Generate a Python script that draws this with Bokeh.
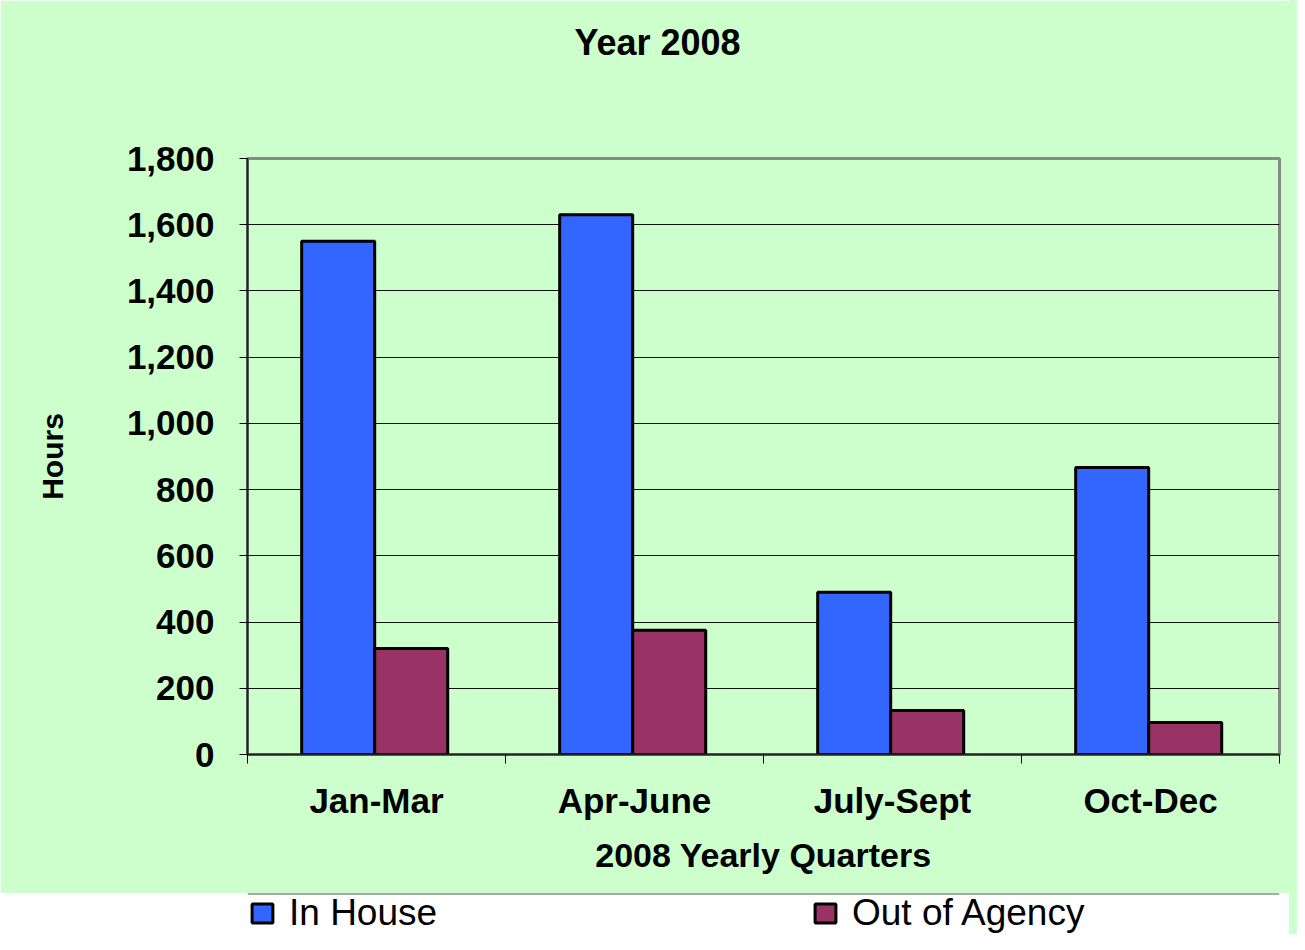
import numpy as np
from bokeh.plotting import figure
from bokeh.layouts import column
from bokeh.models import (Range1d, FixedTicker, NumeralTickFormatter, LinearAxis,
                          Legend, LegendItem, Span, ColumnDataSource)
from bokeh.embed import file_html
from bokeh.resources import INLINE

# ---- data ----
quarters = ["Jan-Mar", "Apr-June", "July-Sept", "Oct-Dec"]
in_house = [1550, 1630, 490, 867]
out_of_agency = [320, 375, 133, 97]
series_names = ["In House", "Out of Agency"]
y_ticks = [0, 200, 400, 600, 800, 1000, 1200, 1400, 1600, 1800]
title_text = "Year 2008"
x_title = "2008 Yearly Quarters"
y_title = "Hours"

# ---- style ----
BG = "#CCFFCC"
BLUE = "#3366FF"
MAROON = "#993366"
TEAL = "#006666"
FONT = "Liberation Sans"
W = 1289

idx = np.arange(len(quarters))
group_center = idx + 0.493
bw = 0.283
src = ColumnDataSource(dict(
    q=quarters,
    x1=group_center - bw / 2,
    x2=group_center + bw / 2,
    inh=in_house,
    out=out_of_agency,
))

p = figure(width=W, height=893, output_backend="svg", toolbar_location=None,
           x_range=Range1d(0, len(quarters)), y_range=Range1d(0, y_ticks[-1]),
           min_border_left=247, min_border_right=10, min_border_top=158,
           min_border_bottom=139)
p.background_fill_color = BG
p.border_fill_color = BG
p.outline_line_color = "#888888"
p.outline_line_width = 3

xa = p.below[0]
ya = p.left[0]

# bars
bar_style = dict(line_color="black", line_width=3)
r1 = p.vbar(x="x1", top="inh", bottom=0, width=bw, source=src, fill_color=BLUE, **bar_style)
r2 = p.vbar(x="x2", top="out", bottom=0, width=bw, source=src, fill_color=MAROON, **bar_style)

# x axis
label_pos = [float(i) + 0.5 for i in idx]
xa.ticker = FixedTicker(ticks=label_pos, minor_ticks=[float(i) for i in range(len(quarters) + 1)])
xa.major_label_overrides = {lp: q for lp, q in zip(label_pos, quarters)}
xa.major_tick_line_color = None
xa.major_tick_out = 0
xa.major_tick_in = 0
xa.minor_tick_line_color = "black"
xa.minor_tick_line_width = 1
xa.minor_tick_out = 9
xa.minor_tick_in = 0
xa.axis_line_color = "#222222"
xa.axis_line_width = 2
xa.major_label_standoff = 17
xa.major_label_text_font = FONT
xa.major_label_text_font_style = "bold"
xa.major_label_text_font_size = "35px"
xa.major_label_text_color = "black"
xa.axis_label = x_title
xa.axis_label_standoff = 13
xa.axis_label_text_font = FONT
xa.axis_label_text_font_style = "bold"
xa.axis_label_text_font_size = "34px"
xa.axis_label_text_color = "black"

# y axis
ya.ticker = FixedTicker(ticks=y_ticks)
ya.formatter = NumeralTickFormatter(format="0,0")
ya.major_tick_out = 8
ya.major_tick_in = 0
ya.major_tick_line_color = "black"
ya.minor_tick_line_color = None
ya.axis_line_color = "#222222"
ya.axis_line_width = 2
ya.major_label_standoff = 25
ya.major_label_text_font = FONT
ya.major_label_text_font_style = "bold"
ya.major_label_text_font_size = "35px"
ya.major_label_text_color = "black"
ya.axis_label = y_title
ya.axis_label_standoff = 55
ya.axis_label_text_font = FONT
ya.axis_label_text_font_style = "bold"
ya.axis_label_text_font_size = "30px"
ya.axis_label_text_color = "black"

# title (placed through an axis above the frame so it can sit high and off-centre)
title_x = 1.589
tax = LinearAxis(ticker=FixedTicker(ticks=[title_x]),
                 major_label_overrides={title_x: title_text})
tax.axis_line_color = None
tax.major_tick_line_color = None
tax.minor_tick_line_color = None
tax.major_tick_out = 0
tax.major_tick_in = 0
tax.major_label_standoff = 96
tax.major_label_text_font = FONT
tax.major_label_text_font_style = "bold"
tax.major_label_text_font_size = "36px"
tax.major_label_text_color = "black"
p.add_layout(tax, "above")

# grid
p.xgrid.visible = False
p.ygrid.ticker = FixedTicker(ticks=y_ticks[1:-1])
p.ygrid.grid_line_color = "#111111"
p.ygrid.grid_line_width = 1

# ---- white legend strip (its frame is aligned with the chart's frame) ----
pb = figure(width=W, height=41, output_backend="svg", toolbar_location=None,
            x_range=Range1d(0, len(quarters)), y_range=Range1d(-2, -1),
            x_axis_type=None, y_axis_type=None,
            min_border_left=0, min_border_right=0, min_border_top=0, min_border_bottom=0)
pb.background_fill_color = "white"
pb.border_fill_color = "white"
pb.outline_line_color = None
pb.add_layout(Span(location=-1, dimension="width", line_color="#555555", line_width=2))

# same series as legend sources (hidden), so the swatches match the bars
s1 = pb.vbar(x="x1", top="inh", bottom=0, width=bw, source=src, fill_color=BLUE, **bar_style)
s2 = pb.vbar(x="x2", top="out", bottom=0, width=bw, source=src, fill_color=MAROON, **bar_style)
s1.visible = False
s2.visible = False


def make_legend(item, loc):
    lg = Legend(items=[item], location=loc)
    lg.label_text_font = FONT
    lg.label_text_font_size = "37px"
    lg.label_text_color = "black"
    lg.glyph_width = 26
    lg.glyph_height = 24
    lg.label_standoff = 14
    lg.padding = 0
    lg.margin = 0
    lg.spacing = 0
    lg.background_fill_alpha = 0
    lg.border_line_alpha = 0
    return lg


pb.add_layout(make_legend(LegendItem(label=series_names[0], renderers=[s1]), (2, 0)))
pb.add_layout(make_legend(LegendItem(label=series_names[1], renderers=[s2]), (565, 0)))

layout = column(p, pb, spacing=0)
# page frame: teal edge on the left/top, chart colours carried to the window edges
layout.styles = {"box-shadow": (f"8px 0 0 0 {BG}, 0 8px 0 0 #FFFFFF, "
                                f"8px 8px 0 0 #FFFFFF, 0 0 0 8px {TEAL}")}
open("out.html", "w").write(file_html(layout, INLINE))
